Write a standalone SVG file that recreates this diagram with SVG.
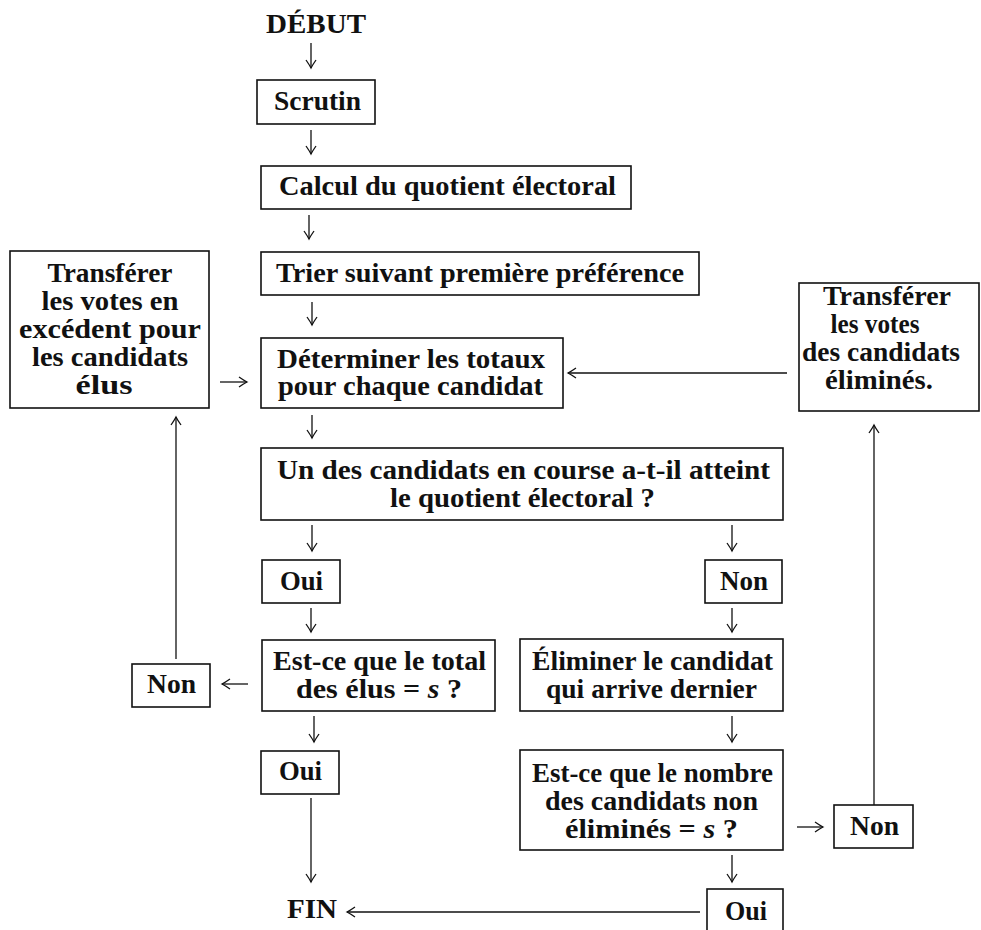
<svg xmlns="http://www.w3.org/2000/svg" width="981" height="930" viewBox="0 0 981 930">
<defs>
<marker id="ah" viewBox="-10 -6 12 12" refX="0" refY="0" markerWidth="12" markerHeight="12" markerUnits="userSpaceOnUse" orient="auto">
<path d="M-8,-5 Q-3,-1.5 0,0 Q-3,1.5 -8,5" fill="none" stroke="#111" stroke-width="1.3"/>
</marker>
<style>
rect{fill:#fff;stroke:#111;stroke-width:1.6}
text{font-family:"Liberation Serif","Times New Roman",serif;font-weight:bold;font-size:27px;fill:#111;text-anchor:middle}
.c line{stroke:#111;stroke-width:1.3;marker-end:url(#ah)}
.i{font-style:italic}
</style>
</defs>
<rect x="0" y="0" width="981" height="930" style="stroke:none;fill:#fff"/>
<g id="debut"><text x="316" y="33" textLength="100" lengthAdjust="spacingAndGlyphs">DÉBUT</text></g>
<g id="scrutin"><rect x="257" y="80" width="118" height="44"/><text x="317.5" y="110" textLength="87" lengthAdjust="spacingAndGlyphs">Scrutin</text></g>
<g id="calcul"><rect x="261" y="166" width="370" height="43"/><text x="447.5" y="195" textLength="337" lengthAdjust="spacingAndGlyphs">Calcul du quotient électoral</text></g>
<g id="trier"><rect x="261" y="252" width="438" height="43"/><text x="480" y="282" textLength="408" lengthAdjust="spacingAndGlyphs">Trier suivant première préférence</text></g>
<g id="transfert-exces"><rect x="10" y="251" width="199" height="157"/>
<text x="110" y="282" textLength="125" lengthAdjust="spacingAndGlyphs">Transférer</text>
<text x="110" y="310" textLength="137" lengthAdjust="spacingAndGlyphs">les votes en</text>
<text x="110" y="338" textLength="182" lengthAdjust="spacingAndGlyphs">excédent pour</text>
<text x="110" y="366" textLength="156" lengthAdjust="spacingAndGlyphs">les candidats</text>
<text x="104" y="394" textLength="57" lengthAdjust="spacingAndGlyphs">élus</text></g>
<g id="determiner"><rect x="261" y="338" width="302" height="70"/>
<text x="411" y="368" textLength="268" lengthAdjust="spacingAndGlyphs">Déterminer les totaux</text>
<text x="410.5" y="395" textLength="265" lengthAdjust="spacingAndGlyphs">pour chaque candidat</text></g>
<g id="transfert-elimines"><rect x="799" y="283" width="180" height="128"/>
<text x="887" y="305" textLength="128" lengthAdjust="spacingAndGlyphs">Transférer</text>
<text x="875" y="333" textLength="89" lengthAdjust="spacingAndGlyphs">les votes</text>
<text x="881" y="361" textLength="158" lengthAdjust="spacingAndGlyphs">des candidats</text>
<text x="879" y="389" textLength="108" lengthAdjust="spacingAndGlyphs">éliminés.</text></g>
<g id="question-quotient"><rect x="261" y="448" width="522" height="72"/>
<text x="523.5" y="479" textLength="493" lengthAdjust="spacingAndGlyphs">Un des candidats en course a-t-il atteint</text>
<text x="522.5" y="507" textLength="265" lengthAdjust="spacingAndGlyphs">le quotient électoral ?</text></g>
<g id="oui1"><rect x="262" y="560" width="78" height="43"/><text x="301.5" y="590" textLength="43" lengthAdjust="spacingAndGlyphs">Oui</text></g>
<g id="non1"><rect x="705" y="560" width="77" height="43"/><text x="744" y="590" textLength="48" lengthAdjust="spacingAndGlyphs">Non</text></g>
<g id="question-total"><rect x="262" y="640" width="233" height="71"/>
<text x="379.5" y="670" textLength="213" lengthAdjust="spacingAndGlyphs">Est-ce que le total</text>
<text x="379" y="698" textLength="166" lengthAdjust="spacingAndGlyphs">des élus = <tspan class="i">s</tspan> ?</text></g>
<g id="non2"><rect x="132" y="664" width="78" height="43"/><text x="171.5" y="693" textLength="49" lengthAdjust="spacingAndGlyphs">Non</text></g>
<g id="oui2"><rect x="261" y="751" width="78" height="43"/><text x="300.5" y="780" textLength="43" lengthAdjust="spacingAndGlyphs">Oui</text></g>
<g id="fin"><text x="312" y="918" textLength="50" lengthAdjust="spacingAndGlyphs">FIN</text></g>
<g id="eliminer"><rect x="520" y="639" width="263" height="72"/>
<text x="652.5" y="670" textLength="241" lengthAdjust="spacingAndGlyphs">Éliminer le candidat</text>
<text x="651.5" y="698" textLength="211" lengthAdjust="spacingAndGlyphs">qui arrive dernier</text></g>
<g id="question-nombre"><rect x="520" y="750" width="263" height="100"/>
<text x="652.5" y="782" textLength="241" lengthAdjust="spacingAndGlyphs">Est-ce que le nombre</text>
<text x="651.5" y="810" textLength="213" lengthAdjust="spacingAndGlyphs">des candidats non</text>
<text x="651.5" y="838" textLength="173" lengthAdjust="spacingAndGlyphs">éliminés = <tspan class="i">s</tspan> ?</text></g>
<g id="non3"><rect x="834" y="805" width="79" height="43"/><text x="874.5" y="835" textLength="49" lengthAdjust="spacingAndGlyphs">Non</text></g>
<g id="oui3"><rect x="707" y="889" width="76" height="45"/><text x="746" y="920" textLength="42" lengthAdjust="spacingAndGlyphs">Oui</text></g>
<g id="connectors" class="c">
<line x1="311" y1="43" x2="311" y2="68"/>
<line x1="311" y1="130" x2="311" y2="154"/>
<line x1="309" y1="215" x2="309" y2="239"/>
<line x1="312" y1="302" x2="312" y2="325"/>
<line x1="220" y1="382" x2="247" y2="382"/>
<line x1="787" y1="373" x2="568" y2="373"/>
<line x1="312" y1="415" x2="312" y2="438"/>
<line x1="312" y1="525" x2="312" y2="551"/>
<line x1="732" y1="525" x2="732" y2="551"/>
<line x1="311" y1="608" x2="311" y2="632"/>
<line x1="248" y1="684" x2="222" y2="684"/>
<line x1="176" y1="659" x2="176" y2="417"/>
<line x1="314" y1="716" x2="314" y2="742"/>
<line x1="311" y1="798" x2="311" y2="882"/>
<line x1="732" y1="608" x2="732" y2="632"/>
<line x1="732" y1="716" x2="732" y2="742"/>
<line x1="797" y1="827" x2="823" y2="827"/>
<line x1="874" y1="805" x2="874" y2="425"/>
<line x1="732" y1="855" x2="732" y2="882"/>
<line x1="700" y1="912" x2="347" y2="912"/>
</g>
</svg>
